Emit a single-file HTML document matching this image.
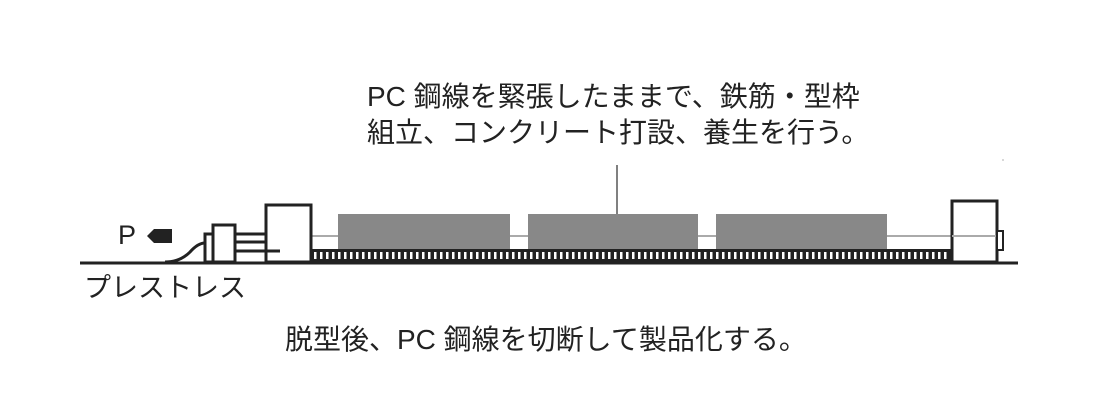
<!DOCTYPE html>
<html><head><meta charset="utf-8"><style>
body{margin:0;background:#fff;width:1120px;height:419px;overflow:hidden;position:relative;font-family:"Liberation Sans","Noto Sans CJK JP",sans-serif;color:#222}
.t{position:absolute;font-size:28px;white-space:nowrap;line-height:1}
</style></head><body>
<div class="t" style="left:367px;top:83px">PC 鋼線を緊張したままで、鉄筋・型枠</div>
<div class="t" style="left:367px;top:119px">組立、コンクリート打設、養生を行う。</div>
<div class="t" style="left:84px;top:275px;font-size:27px">プレストレス</div>
<div class="t" style="left:285px;top:326px">脱型後、PC 鋼線を切断して製品化する。</div>
<div class="t" style="left:118px;top:222px;font-size:27px">P</div>
<svg width="1120" height="419" style="position:absolute;left:0;top:0">
<defs><pattern id="tk" x="312" y="0" width="6" height="20" patternUnits="userSpaceOnUse"><rect x="0" y="0" width="6" height="20" fill="#222"/><rect x="2" y="0" width="2.5" height="20" fill="#fff"/></pattern></defs>
<line x1="617" y1="165" x2="617" y2="214" stroke="#555" stroke-width="1.5"/>
<line x1="311" y1="236" x2="997" y2="236" stroke="#aaa" stroke-width="2"/>
<rect x="338" y="214" width="172" height="35" fill="#888"/>
<rect x="528" y="214" width="170" height="35" fill="#888"/>
<rect x="716" y="214" width="171" height="35" fill="#888"/>
<rect x="311" y="249" width="640" height="13" fill="#222"/>
<rect x="313" y="252" width="636" height="7" fill="url(#tk)"/>
<line x1="80" y1="263" x2="1018" y2="263" stroke="#222" stroke-width="3"/>
<rect x="266" y="205" width="45" height="57" fill="#fff" stroke="#222" stroke-width="3"/>
<rect x="952" y="201" width="45" height="61" fill="#fff" stroke="#222" stroke-width="3"/>
<line x1="952" y1="236" x2="997" y2="236" stroke="#aaa" stroke-width="2"/>
<rect x="997" y="231" width="6" height="19" fill="#fff" stroke="#222" stroke-width="2"/>
<rect x="213" y="225" width="22" height="37" fill="#fff" stroke="#222" stroke-width="3"/>
<rect x="205" y="234" width="8" height="28" fill="#fff" stroke="#222" stroke-width="3"/>
<path d="M165 262 Q180 262 190 252 Q198 243 205 243" fill="none" stroke="#222" stroke-width="3"/>
<line x1="235" y1="234" x2="266" y2="234" stroke="#222" stroke-width="3"/>
<line x1="235" y1="242" x2="266" y2="242" stroke="#222" stroke-width="3"/>
<line x1="235" y1="251" x2="280" y2="251" stroke="#222" stroke-width="3"/>
<path d="M147 236 L154 229 L172 229 L172 243 L154 243 Z" fill="#222"/>
<circle cx="1003" cy="160" r="1" fill="#ccc"/>
</svg>
</body></html>
